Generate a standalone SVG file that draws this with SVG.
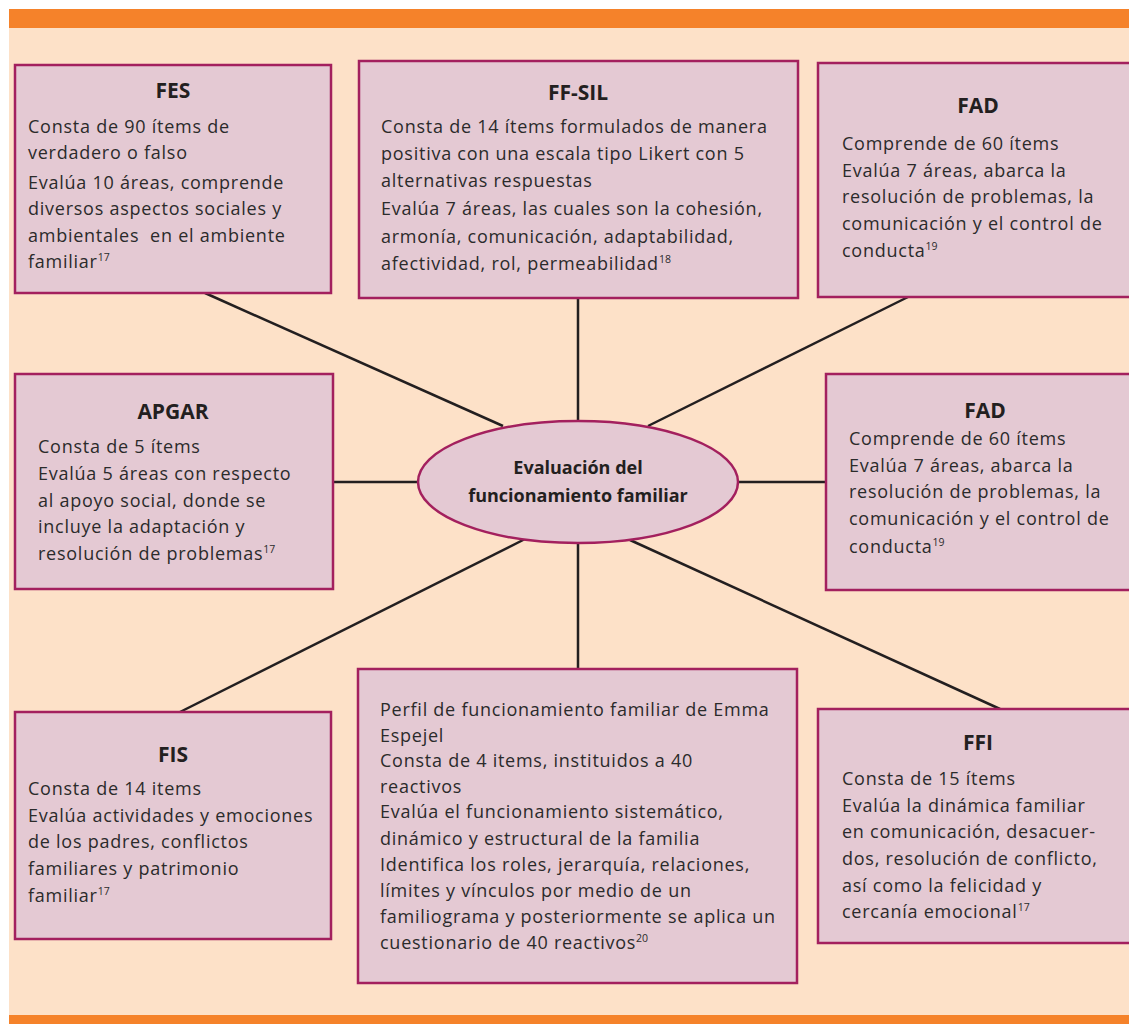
<svg xmlns="http://www.w3.org/2000/svg" width="1129" height="1024" viewBox="0 0 1129 1024">
<style>
.box{fill:#E4C9D3;stroke:#A3205E;stroke-width:2.5}
.t{font-family:"Open Sans","Noto Sans","Liberation Sans",sans-serif;font-size:18px;letter-spacing:0.75px;fill:#2B2B2B}
.h{font-family:"Open Sans","Noto Sans","Liberation Sans",sans-serif;font-size:21px;font-weight:bold;fill:#231F20;text-anchor:middle}
.c{font-family:"Open Sans","Noto Sans","Liberation Sans",sans-serif;font-size:18px;font-weight:bold;fill:#231F20;text-anchor:middle}
.sup{font-size:10.5px;letter-spacing:0}
#connectors line{stroke:#231F20;stroke-width:2.5}
</style>
<rect x="0" y="0" width="1129" height="1024" fill="#FFFFFF"/>
<rect x="9" y="9" width="1120" height="19" fill="#F5822A"/>
<rect x="9" y="28" width="1120" height="987" fill="#FDE1C8"/>
<rect x="9" y="1015" width="1120" height="9" fill="#F5822A"/>
<g id="connectors">
<line x1="205" y1="293" x2="503" y2="426"/>
<line x1="578" y1="298" x2="578" y2="421"/>
<line x1="908" y1="297" x2="648" y2="426"/>
<line x1="333" y1="482" x2="418" y2="482"/>
<line x1="738" y1="482" x2="826" y2="482"/>
<line x1="180" y1="712" x2="527" y2="538"/>
<line x1="578" y1="543" x2="578" y2="669"/>
<line x1="1000" y1="709" x2="630" y2="540"/>
</g>
<g id="fes">
<rect class="box" x="15" y="65" width="316" height="228"/>
<text class="h" x="173" y="98">FES</text>
<text class="t" x="28" y="133">Consta de 90 ítems de</text>
<text class="t" x="28" y="159">verdadero o falso</text>
<text class="t" x="28" y="189">Evalúa 10 áreas, comprende</text>
<text class="t" x="28" y="215">diversos aspectos sociales y</text>
<text class="t" x="28" y="242" xml:space="preserve">ambientales  en el ambiente</text>
<text class="t" x="28" y="268">familiar<tspan class="sup" dy="-7">17</tspan></text>
</g>
<g id="ffsil">
<rect class="box" x="359" y="61" width="439" height="237"/>
<text class="h" x="578" y="100">FF-SIL</text>
<text class="t" x="381" y="133">Consta de 14 ítems formulados de manera</text>
<text class="t" x="381" y="160">positiva con una escala tipo Likert con 5</text>
<text class="t" x="381" y="187">alternativas respuestas</text>
<text class="t" x="381" y="215">Evalúa 7 áreas, las cuales son la cohesión,</text>
<text class="t" x="381" y="243">armonía, comunicación, adaptabilidad,</text>
<text class="t" x="381" y="270">afectividad, rol, permeabilidad<tspan class="sup" dy="-7">18</tspan></text>
</g>
<g id="fad-top">
<rect class="box" x="818" y="63" width="322" height="234"/>
<text class="h" x="978" y="113">FAD</text>
<text class="t" x="842" y="150">Comprende de 60 ítems</text>
<text class="t" x="842" y="177">Evalúa 7 áreas, abarca la</text>
<text class="t" x="842" y="203">resolución de problemas, la</text>
<text class="t" x="842" y="230">comunicación y el control de</text>
<text class="t" x="842" y="257">conducta<tspan class="sup" dy="-7">19</tspan></text>
</g>
<g id="apgar">
<rect class="box" x="15" y="374" width="318" height="215"/>
<text class="h" x="173" y="419">APGAR</text>
<text class="t" x="38" y="453">Consta de 5 ítems</text>
<text class="t" x="38" y="480">Evalúa 5 áreas con respecto</text>
<text class="t" x="38" y="507">al apoyo social, donde se</text>
<text class="t" x="38" y="533">incluye la adaptación y</text>
<text class="t" x="38" y="560">resolución de problemas<tspan class="sup" dy="-7">17</tspan></text>
</g>
<g id="center">
<ellipse cx="578" cy="482" rx="160" ry="61" fill="#E4C9D3" stroke="#A3205E" stroke-width="2.5"/>
<text class="c" x="578" y="474">Evaluación del</text>
<text class="c" x="578" y="502">funcionamiento familiar</text>
</g>
<g id="fad-mid">
<rect class="box" x="826" y="374" width="314" height="216"/>
<text class="h" x="985" y="418">FAD</text>
<text class="t" x="849" y="445">Comprende de 60 ítems</text>
<text class="t" x="849" y="472">Evalúa 7 áreas, abarca la</text>
<text class="t" x="849" y="498">resolución de problemas, la</text>
<text class="t" x="849" y="525">comunicación y el control de</text>
<text class="t" x="849" y="553">conducta<tspan class="sup" dy="-7">19</tspan></text>
</g>
<g id="fis">
<rect class="box" x="15" y="712" width="316" height="227"/>
<text class="h" x="173" y="762">FIS</text>
<text class="t" x="28" y="795">Consta de 14 items</text>
<text class="t" x="28" y="822">Evalúa actividades y emociones</text>
<text class="t" x="28" y="848">de los padres, conflictos</text>
<text class="t" x="28" y="875">familiares y patrimonio</text>
<text class="t" x="28" y="902">familiar<tspan class="sup" dy="-7">17</tspan></text>
</g>
<g id="perfil">
<rect class="box" x="358" y="669" width="439" height="314"/>
<text class="t" x="380" y="716">Perfil de funcionamiento familiar de Emma</text>
<text class="t" x="380" y="742">Espejel</text>
<text class="t" x="380" y="767">Consta de 4 items, instituidos a 40</text>
<text class="t" x="380" y="793">reactivos</text>
<text class="t" x="380" y="818">Evalúa el funcionamiento sistemático,</text>
<text class="t" x="380" y="845">dinámico y estructural de la familia</text>
<text class="t" x="380" y="871">Identifica los roles, jerarquía, relaciones,</text>
<text class="t" x="380" y="897">límites y vínculos por medio de un</text>
<text class="t" x="380" y="923">familiograma y posteriormente se aplica un</text>
<text class="t" x="380" y="949">cuestionario de 40 reactivos<tspan class="sup" dy="-7">20</tspan></text>
</g>
<g id="ffi">
<rect class="box" x="818" y="709" width="322" height="234"/>
<text class="h" x="978" y="750">FFI</text>
<text class="t" x="842" y="785">Consta de 15 ítems</text>
<text class="t" x="842" y="812">Evalúa la dinámica familiar</text>
<text class="t" x="842" y="838">en comunicación, desacuer-</text>
<text class="t" x="842" y="865">dos, resolución de conflicto,</text>
<text class="t" x="842" y="892">así como la felicidad y</text>
<text class="t" x="842" y="918">cercanía emocional<tspan class="sup" dy="-7">17</tspan></text>
</g>
</svg>
